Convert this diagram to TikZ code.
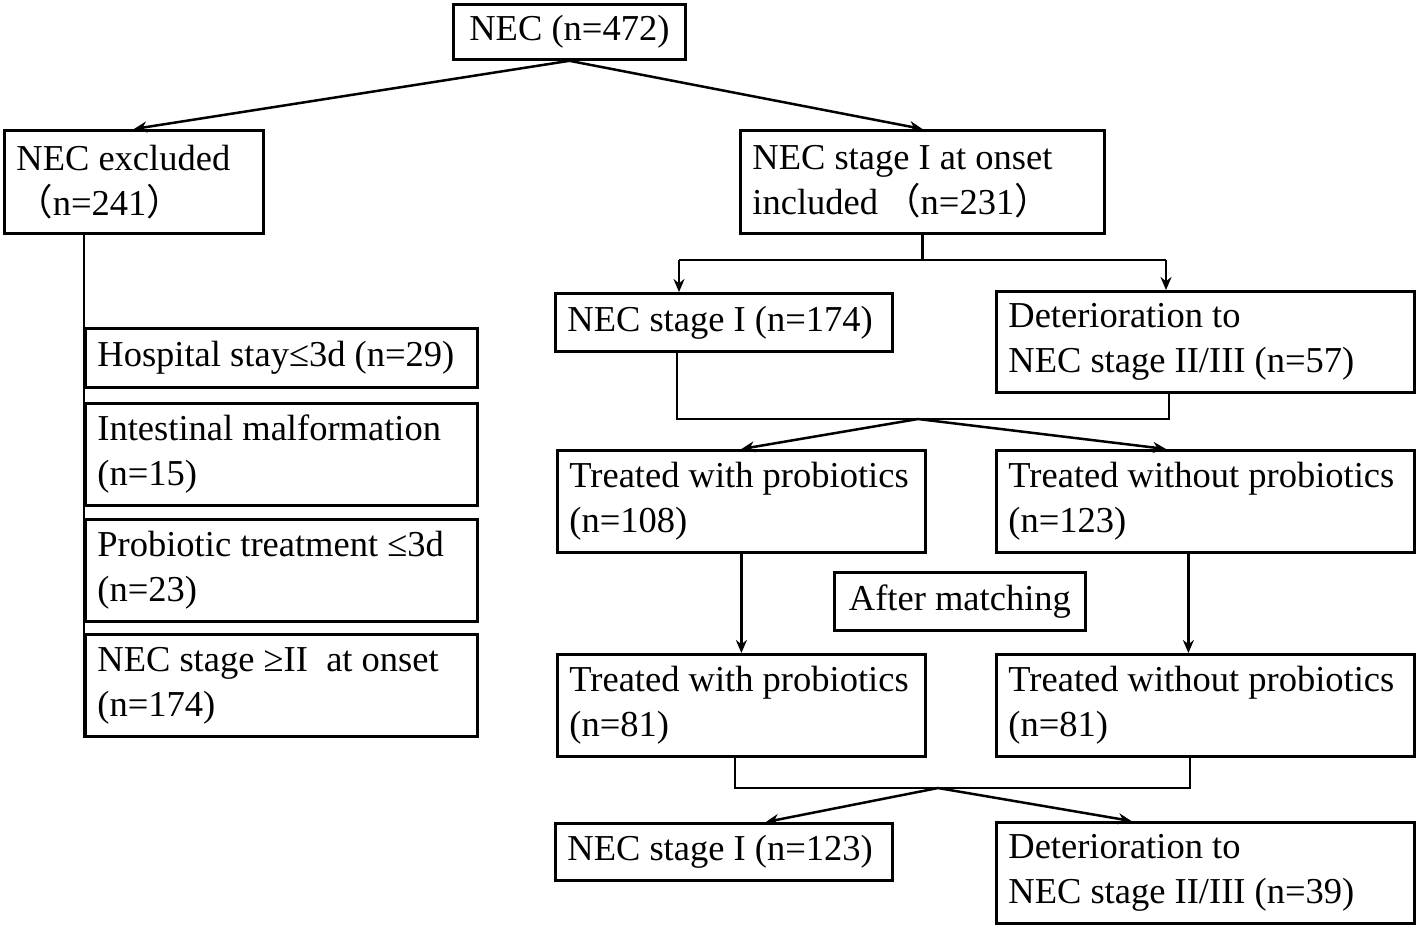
\documentclass[tikz,border=0pt]{standalone}
\usepackage{fontspec}
\setmainfont{Liberation Serif}
\newfontfamily\cjkfont{Noto Sans CJK SC}
\usetikzlibrary{arrows.meta}

\newcommand{\wlp}{{\cjkfont （}}
\newcommand{\wrp}{{\cjkfont ）}}

\tikzset{
  box/.style={draw, line width=1.4pt, anchor=north west, inner xsep=6pt, inner ysep=0pt,
    align=flush left, font=\fontsize{18.25}{22.5}\selectfont},
  cbox/.style={box, align=flush center},
  link/.style={line width=1.25pt},
  arr/.style={link, -{Stealth[length=6.5pt,width=5.5pt]}}
}

\begin{document}
\begin{tikzpicture}[x=0.5pt,y=-0.5pt]
\useasboundingbox (0,0) rectangle (1418,928);

\node[cbox, minimum width=116pt, minimum height=27.5pt] (all) at (452,3) {NEC (n=472)};

\node[box, text width=117.5pt, minimum height=51.5pt] (excl) at (3,129) {NEC excluded\\\wlp n=241\wrp};

\node[box, text width=170pt, minimum height=51.5pt] (incl) at (739,129) {NEC stage I at onset\\included\,\wlp n=231\wrp};

\draw[arr] (all.south) -- (excl.north);

\draw[arr] (all.south) -- (incl.north);

% excluded cases
\node[box, text width=184pt, minimum height=29.5pt] (stay) at (84,327) {Hospital stay≤3d (n=29)};

\node[box, text width=184pt, minimum height=51pt] (malf) at (84,402) {Intestinal malformation\\(n=15)};

\node[box, text width=184pt, minimum height=51pt] (prob) at (84,518) {Probiotic treatment ≤3d\\(n=23)};

\node[box, text width=184pt, minimum height=51pt] (onset) at (84,633) {NEC stage ≥II\ \ at onset\\(n=174)};

\draw[link] (excl.south -| stay.west) -- (onset.south west);

% included cases
\node[box, text width=156.5pt, minimum height=29pt] (st1) at (554,292) {NEC stage I (n=174)};

\node[box, text width=197pt, minimum height=50.5pt] (det1) at (995,290) {Deterioration to\\NEC stage II/III (n=57)};

\coordinate (sp1l) at (679,260);
\coordinate (sp1r) at (1166,260);
\coordinate (sp1) at (incl.south |- sp1l);

\draw[link] (incl.south) -- (sp1);
\draw[link] (sp1l) -- (sp1r);
\draw[arr] (sp1l) -- (sp1l |- st1.north);
\draw[arr] (sp1r) -- (sp1r |- det1.north);

\node[box, text width=172pt, minimum height=51pt] (pro1) at (556,449) {Treated with probiotics\\(n=108)};

\node[box, text width=197pt, minimum height=51pt] (non1) at (995,449) {Treated without probiotics\\(n=123)};

\coordinate (mg1) at (918,419);
\coordinate (mg1l) at (677,419);
\coordinate (mg1r) at (1169,419);

\draw[link] (mg1l |- st1.south) -- (mg1l) -- (mg1r) -- (mg1r |- det1.south);
\draw[arr] (mg1) -- (pro1.north);
\draw[arr] (mg1) -- (sp1r |- non1.north);

% matching
\node[cbox, minimum width=125.5pt, minimum height=29pt] (match) at (833,571) {After matching};

\node[box, text width=172pt, minimum height=51pt] (pro2) at (556,653) {Treated with probiotics\\(n=81)};

\node[box, text width=197pt, minimum height=51pt] (non2) at (995,653) {Treated without probiotics\\(n=81)};

\draw[arr] (pro1.south) -- (pro2.north);
\draw[arr] ([xshift=-8.5pt]non1.south) -- ([xshift=-8.5pt]non2.north);

\node[box, text width=156.5pt, minimum height=28.5pt] (st2) at (554,822) {NEC stage I (n=123)};

\node[box, text width=197pt, minimum height=50.5pt] (det2) at (995,821) {Deterioration to\\NEC stage II/III (n=39)};

\coordinate (mg2) at (938,788);
\coordinate (mg2l) at (735,788);
\coordinate (mg2r) at (1190,788);

\draw[link] (mg2l |- pro2.south) -- (mg2l) -- (mg2r) -- (mg2r |- non2.south);
\draw[arr] (mg2) -- ([xshift=21pt]st2.north);
\draw[arr] (mg2) -- ([xshift=-37pt]det2.north);

\end{tikzpicture}
\end{document}
